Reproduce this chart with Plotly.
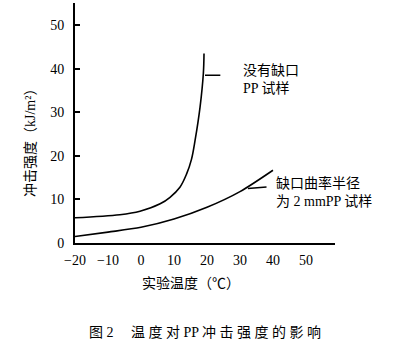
import plotly.graph_objects as go

# Unnotched PP specimen
temp_unnotched = [-20, -6.4, -0.3, 5.8, 8.8, 11.8, 13.8, 15.3, 16.4, 17.9, 18.9, 19.1]
impact_unnotched = [5.8, 6.5, 7.3, 9.0, 10.5, 12.8, 15.8, 19.2, 23.6, 31.2, 38.9, 43.5]

# Notched (radius 2 mm) PP specimen
temp_notched = [-20, -10, 0, 10, 20, 30, 40]
impact_notched = [1.5, 2.5, 3.6, 5.5, 8.2, 11.8, 16.7]

x_ticks = [-20, -10, 0, 10, 20, 30, 40, 50]
y_ticks = [0, 10, 20, 30, 40, 50]

label_unnotched = "没有缺口<br>PP 试样"
label_notched = "缺口曲率半径<br>为 2 mmPP 试样"
x_title = "实验温度（℃）"
y_title = "冲击强度（kJ/m²）"
caption = "图 2　 温 度 对 PP 冲 击 强 度 的 影 响"

FONT = "Liberation Serif, Noto Sans CJK SC"

fig = go.Figure()
fig.add_trace(go.Scatter(x=temp_unnotched, y=impact_unnotched, mode="lines",
                         line=dict(color="black", width=1.6, shape="spline", smoothing=1.0),
                         showlegend=False, hoverinfo="skip"))
fig.add_trace(go.Scatter(x=temp_notched, y=impact_notched, mode="lines",
                         line=dict(color="black", width=1.6, shape="spline", smoothing=0.8),
                         showlegend=False, hoverinfo="skip"))

fig.update_layout(
    width=413, height=351,
    margin=dict(l=75, r=78, t=3, b=108),
    plot_bgcolor="white", paper_bgcolor="white",
    font=dict(family=FONT, color="black", size=13),
    xaxis=dict(range=[-20, 58.8], tickvals=x_ticks, ticks="", showgrid=False,
               zeroline=False, showline=True, linecolor="black", linewidth=2,
               ticklabelstandoff=3, tickfont=dict(size=14, family=FONT)),
    yaxis=dict(range=[0, 55.1], tickvals=y_ticks, ticks="inside", ticklen=5,
               tickcolor="black", tickwidth=1.5, showgrid=False, zeroline=False,
               showline=True, linecolor="black", linewidth=2,
               ticklabelstandoff=6, tickfont=dict(size=14, family=FONT)),
)

fig.add_annotation(x=19.4, y=38.5, ax=24.5, ay=38.5, axref="x", ayref="y",
                   showarrow=True, arrowhead=0, arrowwidth=1.5, arrowcolor="black", text="")
fig.add_annotation(x=30.4, y=37.6, xref="x", yref="y", text=label_unnotched,
                   showarrow=False, xanchor="left", yanchor="middle", align="left",
                   font=dict(size=14, family=FONT))
fig.add_annotation(x=32.4, y=12.5, ax=38.5, ay=12.9, axref="x", ayref="y",
                   showarrow=True, arrowhead=0, arrowwidth=1.5, arrowcolor="black", text="")
fig.add_annotation(x=40.2, y=11.6, xref="x", yref="y", text=label_notched,
                   showarrow=False, xanchor="left", yanchor="middle", align="left",
                   font=dict(size=14, family=FONT))

fig.add_annotation(x=191, y=351 - 283, xref="paper", yref="paper", text=x_title,
                   showarrow=False, font=dict(size=14))
fig.add_annotation(x=30, y=351 - 140, xref="paper", yref="paper", text=y_title,
                   showarrow=False, textangle=-90, font=dict(size=14))
fig.add_annotation(x=205, y=351 - 332, xref="paper", yref="paper", text=caption,
                   showarrow=False, font=dict(size=14))

# convert pixel-based paper positions to paper fractions
pw, ph = 413 - 75 - 78, 351 - 3 - 108
for a in fig.layout.annotations:
    if a.xref == "paper":
        a.x = (a.x - 75) / pw
        a.y = (a.y - 108) / ph
        a.xanchor = "center"
        a.yanchor = "middle"

fig.write_html("out.html")
